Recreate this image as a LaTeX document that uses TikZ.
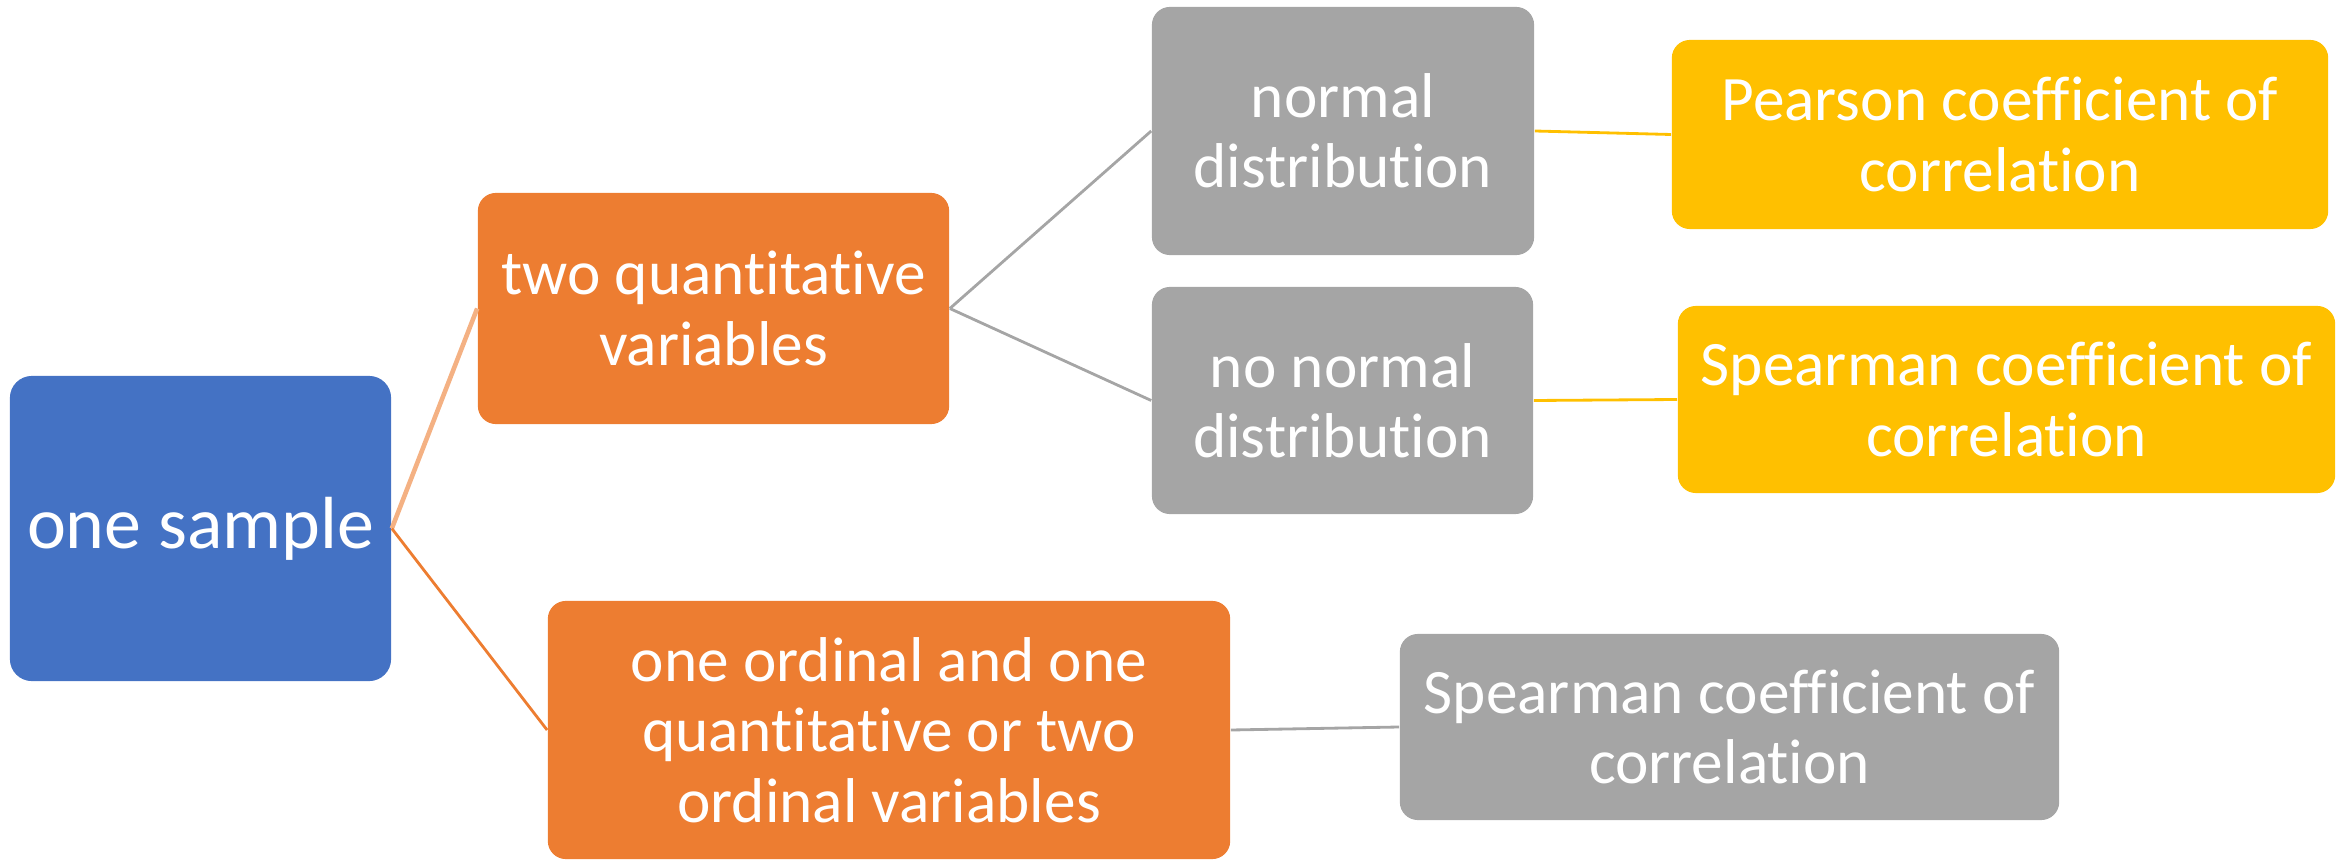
\documentclass[tikz,border=0pt]{standalone}
\usepackage{fontspec}
\setmainfont{Carlito}[Ligatures=NoCommon]
\definecolor{sampleblue}{HTML}{4472C4}
\definecolor{varorange}{HTML}{ED7D31}
\definecolor{lightorange}{HTML}{F4B183}
\definecolor{distgray}{HTML}{A5A5A5}
\definecolor{coefgold}{HTML}{FFC000}
\begin{document}
\begin{tikzpicture}[x=0.01cm,y=-0.01cm,
        box/.style={rounded corners=0.18cm,text=white,align=center,inner sep=0pt,
            font=\fontsize{18}{20}\selectfont},
        samplebox/.style={box,fill=sampleblue,rounded corners=0.22cm,
            font=\fontsize{21}{24}\selectfont},
        varbox/.style={box,fill=varorange},
        distbox/.style={box,fill=distgray},
        coefbox/.style={box,fill=coefgold},
        link/.style={line width=0.8pt}]
        \useasboundingbox (0,0) rectangle (2343,864);
        % first level
        \node[samplebox,minimum width=3.81cm,minimum height=3.05cm] (sample) at (200.5,528.5) {one sample};
        % kind of variables
        \node[varbox,minimum width=4.71cm,minimum height=2.31cm] (twoquant) at (713.5,308.5) {two quantitative\\variables};
        \node[varbox,minimum width=6.82cm,minimum height=2.58cm] (ordinal) at (889,730) {one ordinal and one\\quantitative or two\\ordinal variables};
        % distribution
        \node[distbox,minimum width=3.82cm,minimum height=2.48cm] (normal) at (1343,131) {normal\\distribution};
        \node[distbox,minimum width=3.81cm,minimum height=2.27cm] (nonormal) at (1342.5,400.5) {no normal\\distribution};
        % coefficients
        \node[coefbox,minimum width=6.56cm,minimum height=1.89cm] (pearson) at (2000,134.5) {Pearson coefficient of\\correlation};
        \node[coefbox,minimum width=6.57cm,minimum height=1.87cm] (spearman) at (2006.5,399.5) {Spearman coefficient of\\correlation};
        \node[distbox,minimum width=6.59cm,minimum height=1.86cm] (spearmanord) at (1729.5,727) {Spearman coefficient of\\correlation};
        % connectors
        \draw[link,lightorange,line width=1.3pt] (sample.east) -- (twoquant.west);
        \draw[link,varorange] (sample.east) -- (ordinal.west);
        \draw[link,distgray] (twoquant.east) -- (normal.west);
        \draw[link,distgray] (twoquant.east) -- (nonormal.west);
        \draw[link,coefgold] (normal.east) -- (pearson.west);
        \draw[link,coefgold] (nonormal.east) -- (spearman.west);
        \draw[link,distgray] (ordinal.east) -- (spearmanord.west);
\end{tikzpicture}
\end{document}
